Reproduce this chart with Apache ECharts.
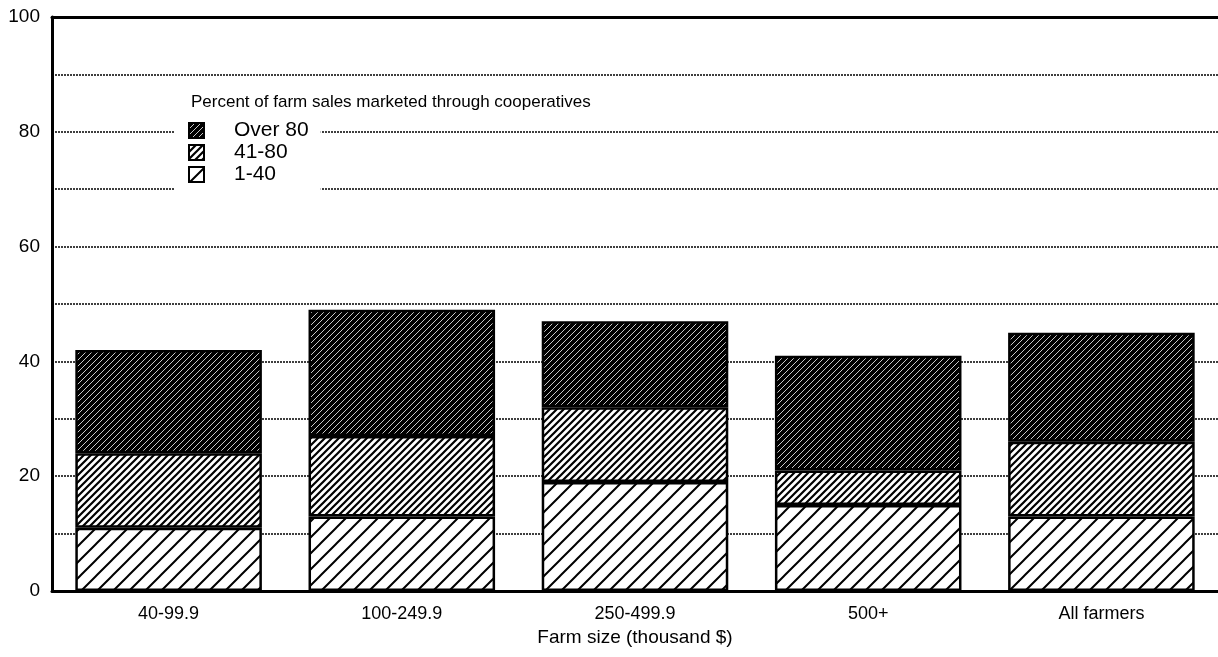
<!DOCTYPE html>
<html>
<head>
<meta charset="utf-8">
<script src="https://cdn.jsdelivr.net/npm/echarts@6/dist/echarts.min.js"></script>
<style>
  html, body { margin: 0; padding: 0; background: #fff; }
  #main { width: 1218px; height: 657px; }
</style>
</head>
<body>
<div id="main"></div>
<script>
// farm size groups and share (%) of farmers in each cooperative-sales band
var categories = ['40-99.9', '100-249.9', '250-499.9', '500+', 'All farmers'];
var low = [11, 13, 19, 15, 13];     // 1-40
var mid = [13, 14, 13, 6, 13];      // 41-80
var high = [18, 22, 15, 20, 19];    // Over 80
var legendNames = ['Over 80', '41-80', '1-40'];

// diagonal hatch tiles
function hatch(size, bg, fg, width) {
  var c = document.createElement('canvas');
  c.width = size; c.height = size;
  var ctx = c.getContext('2d');
  ctx.fillStyle = bg;
  ctx.fillRect(0, 0, size, size);
  ctx.strokeStyle = fg;
  ctx.lineWidth = width;
  ctx.beginPath();
  ctx.moveTo(0, size); ctx.lineTo(size, 0);
  ctx.moveTo(-1, 1); ctx.lineTo(1, -1);
  ctx.moveTo(size - 1, size + 1); ctx.lineTo(size + 1, size - 1);
  ctx.stroke();
  return { image: c, repeat: 'repeat' };
}
var darkFill = hatch(6, '#000', '#c8c8c8', 1);
var midFill = hatch(7, '#fff', '#000', 2.2);
var lowFill = hatch(16, '#fff', '#000', 2);

var font = 'Liberation Sans, Arial, sans-serif';
var myChart = echarts.init(document.getElementById('main'));

function bar(name, data, fill) {
  return {
    name: name,
    type: 'bar',
    stack: 'total',
    barWidth: '80%',
    data: data,
    itemStyle: { color: fill, borderColor: '#000', borderWidth: 2.5 }
  };
}

myChart.setOption({
  animation: false,
  title: {
    text: 'Percent of farm sales marketed through cooperatives',
    left: 186,
    top: 89,
    textStyle: { fontFamily: font, fontSize: 17, fontWeight: 'normal', color: '#000' }
  },
  legend: {
    data: legendNames,
    orient: 'vertical',
    icon: 'rect',
    left: 174,
    top: 114,
    padding: [6, 12, 8, 14],
    itemWidth: 15,
    itemHeight: 15,
    itemGap: 1,
    backgroundColor: '#fff',
    textStyle: { fontFamily: font, fontSize: 21, color: '#000', padding: [0, 0, 0, 25] },
    itemStyle: { borderColor: '#000', borderWidth: 2 }
  },
  grid: { left: 52, right: 0, top: 17, bottom: 66 },
  xAxis: [{
    type: 'category',
    data: categories,
    axisLine: { lineStyle: { color: '#000', width: 3 } },
    axisTick: { show: false },
    axisLabel: { fontFamily: font, fontSize: 18, color: '#000', margin: 14 },
    name: 'Farm size (thousand $)',
    nameLocation: 'middle',
    nameGap: 37,
    nameTextStyle: { fontFamily: font, fontSize: 19, color: '#000' }
  }, {
    type: 'category',
    data: categories,
    position: 'top',
    axisLine: { lineStyle: { color: '#000', width: 3 } },
    axisTick: { show: false },
    axisLabel: { show: false }
  }],
  yAxis: {
    type: 'value',
    min: 0,
    max: 100,
    interval: 10,
    axisLine: { show: true, lineStyle: { color: '#000', width: 3 } },
    axisTick: { show: false },
    axisLabel: {
      fontFamily: font, fontSize: 19, color: '#000', margin: 12,
      formatter: function (v) { return v % 20 === 0 ? v : ''; }
    },
    splitLine: { lineStyle: { color: '#000', width: 1.6, type: [2, 1] } }
  },
  series: [
    bar('1-40', low, lowFill),
    bar('41-80', mid, midFill),
    bar('Over 80', high, darkFill)
  ]
});
</script>
</body>
</html>
